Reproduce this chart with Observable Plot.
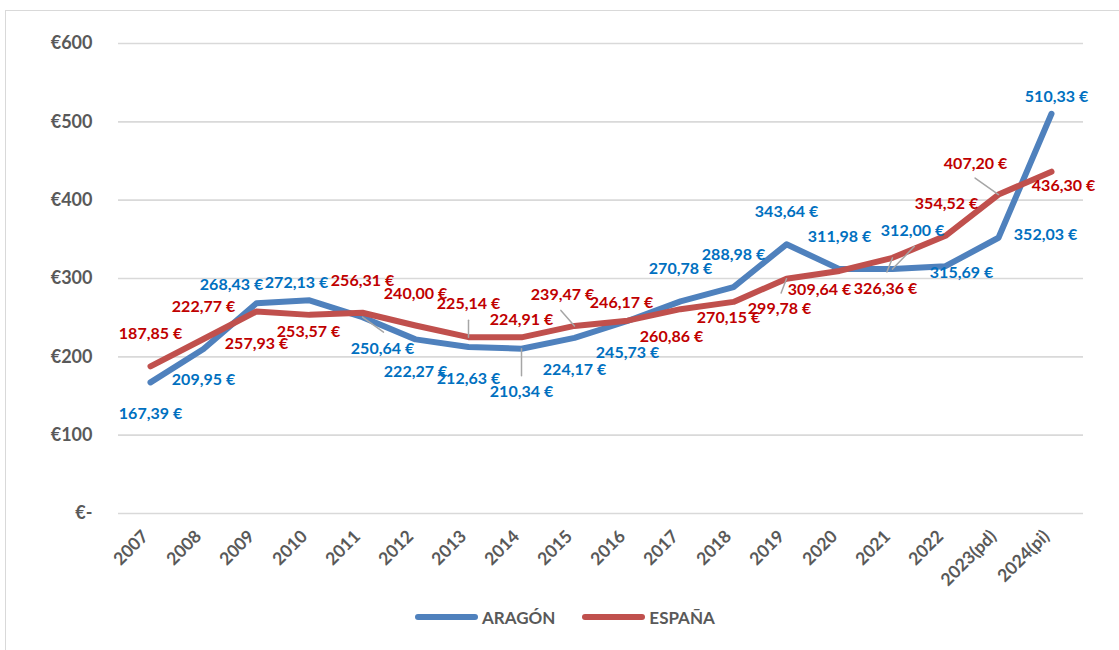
<!DOCTYPE html>
<html><head><meta charset="utf-8">
<script src="https://cdn.jsdelivr.net/npm/d3@7"></script>
<script src="https://cdn.jsdelivr.net/npm/@observablehq/plot@0.6"></script>
<style>
html,body{margin:0;padding:0;background:#fff;overflow:hidden}
#wrap{position:relative;width:1119px;height:650px;overflow:hidden}
#frame{position:absolute;left:5px;top:10px;width:1200px;height:700px;border:1.5px solid #d9d9d9;box-sizing:border-box}
#chart{position:absolute;left:0;top:0}
#legend{position:absolute;top:606px;left:415px;display:flex;align-items:center;font:bold 17px Lato, sans-serif;color:#595959;height:22px}
.sw{width:63px;height:6px;border-radius:3px;display:inline-block;margin-right:4px}
.item{display:flex;align-items:center;margin-right:27px}
</style></head>
<body><div id="wrap"><div id="frame"></div><div id="chart"></div><div id="legend"></div></div>
<script>
// ---- data ----
const categories = ["2007","2008","2009","2010","2011","2012","2013","2014","2015","2016","2017","2018","2019","2020","2021","2022","2023(pd)","2024(pi)"];
const aragonValues = [167.39,209.95,268.43,272.13,250.64,222.27,212.63,210.34,224.17,245.73,270.78,288.98,343.64,311.98,312.00,315.69,352.03,510.33];
const espanaValues = [187.85,222.77,257.93,253.57,256.31,240.00,225.14,224.91,239.47,246.17,260.86,270.15,299.78,309.64,326.36,354.52,407.20,436.30];
const seriesNames = ["ARAGÓN","ESPAÑA"];
const yTicks = [0,100,200,300,400,500,600];

// ---- layout (label offsets in px from each point, leader lines) ----
const aragonLabelOffsets = [[0,31],[0,31],[-25,-18],[-13,-17],[20,32],[0,32],[0,32],[0,43],[0,32],[0,32],[0,-33],[0,-32],[0,-32],[0,-32],[20,-38],[16,7],[47,-3],[5,-17]];
const espanaLabelOffsets = [[0,-32],[0,-32],[0,32],[-1,17],[0,-32],[0,-32],[0,-33],[0,-17],[-12,-31],[-6,-18],[-9,28],[-5,16],[-7,30],[-20,19],[-7,31],[1,-32],[-23,-31],[12,14]];
// leader: [series index, category index, dx, dy]
const leaders = [[1,6,0,-17],[0,4,21,15],[0,7,0,27],[1,8,-13.6,-15.5],[1,12,-5.4,14.4],[1,14,-5.6,14.2],[0,14,21.8,-22.7],[1,16,-23.4,-16.5]];

const colors = {line: ["#4F81BD","#C0504D"], label: ["#0070C0","#C00000"]};
const series = [aragonValues, espanaValues];
const offsets = [aragonLabelOffsets, espanaLabelOffsets];

const rows = [];
series.forEach((vals, s) => vals.forEach((v, i) => rows.push({serie: seriesNames[s], cat: categories[i], v})));

const fmt = v => v.toFixed(2).replace(".", ",") + " €";

const leaderData = leaders.map(([s, i, dx, dy]) => ({
  cat: categories[i], v: series[s][i],
  len: Math.hypot(dx, dy),
  rot: Math.atan2(dx, -dy) * 180 / Math.PI
}));
const leaderShape = {draw(context, l) { context.moveTo(0, 0); context.lineTo(0, -l); }};

const labelMarks = [];
series.forEach((vals, s) => vals.forEach((v, i) => {
  labelMarks.push(Plot.text([{cat: categories[i], v}], {
    x: "cat", y: "v", text: d => fmt(d.v),
    dx: offsets[s][i][0], dy: offsets[s][i][1],
    fill: colors.label[s], fontWeight: "bold", fontSize: 16, textAnchor: "middle", lineAnchor: "middle"
  }));
}));

const chart = Plot.plot({
  width: 1119, height: 600,
  marginLeft: 118, marginRight: 36, marginTop: 43, marginBottom: 87,
  style: {fontFamily: "Lato, sans-serif", background: "transparent", overflow: "visible"},
  x: {type: "point", domain: categories, padding: 0.5, label: null},
  y: {domain: [0, 600], label: null},
  length: {type: "identity"},
  marks: [
    Plot.ruleY(yTicks, {stroke: "#d9d9d9", strokeWidth: 1.6}),
    Plot.axisY({ticks: yTicks, tickSize: 0, tickPadding: 26, tickFormat: d => d === 0 ? "€-" : "€" + d, fontSize: 18, fontWeight: "bold", fill: "#595959", label: null}),
    Plot.axisX({tickSize: 0, tickPadding: 20, dx: -5, tickRotate: -45, fontSize: 17.5, fontWeight: "bold", fill: "#595959", label: null}),
    Plot.line(rows.filter(d => d.serie === seriesNames[0]), {x: "cat", y: "v", stroke: colors.line[0], strokeWidth: 6, strokeLinejoin: "round", strokeLinecap: "round"}),
    Plot.line(rows.filter(d => d.serie === seriesNames[1]), {x: "cat", y: "v", stroke: colors.line[1], strokeWidth: 6, strokeLinejoin: "round", strokeLinecap: "round"}),
    Plot.vector(leaderData, {x: "cat", y: "v", length: "len", rotate: "rot", anchor: "start", shape: leaderShape, stroke: "#a6a6a6", strokeWidth: 1.5}),
    ...labelMarks
  ]
});
document.getElementById("chart").appendChild(chart);

const legend = document.getElementById("legend");
seriesNames.forEach((n, s) => {
  const it = document.createElement("div");
  it.className = "item";
  it.innerHTML = `<span class="sw" style="background:${colors.line[s]}"></span><span>${n}</span>`;
  legend.appendChild(it);
});
</script>
</body></html>
